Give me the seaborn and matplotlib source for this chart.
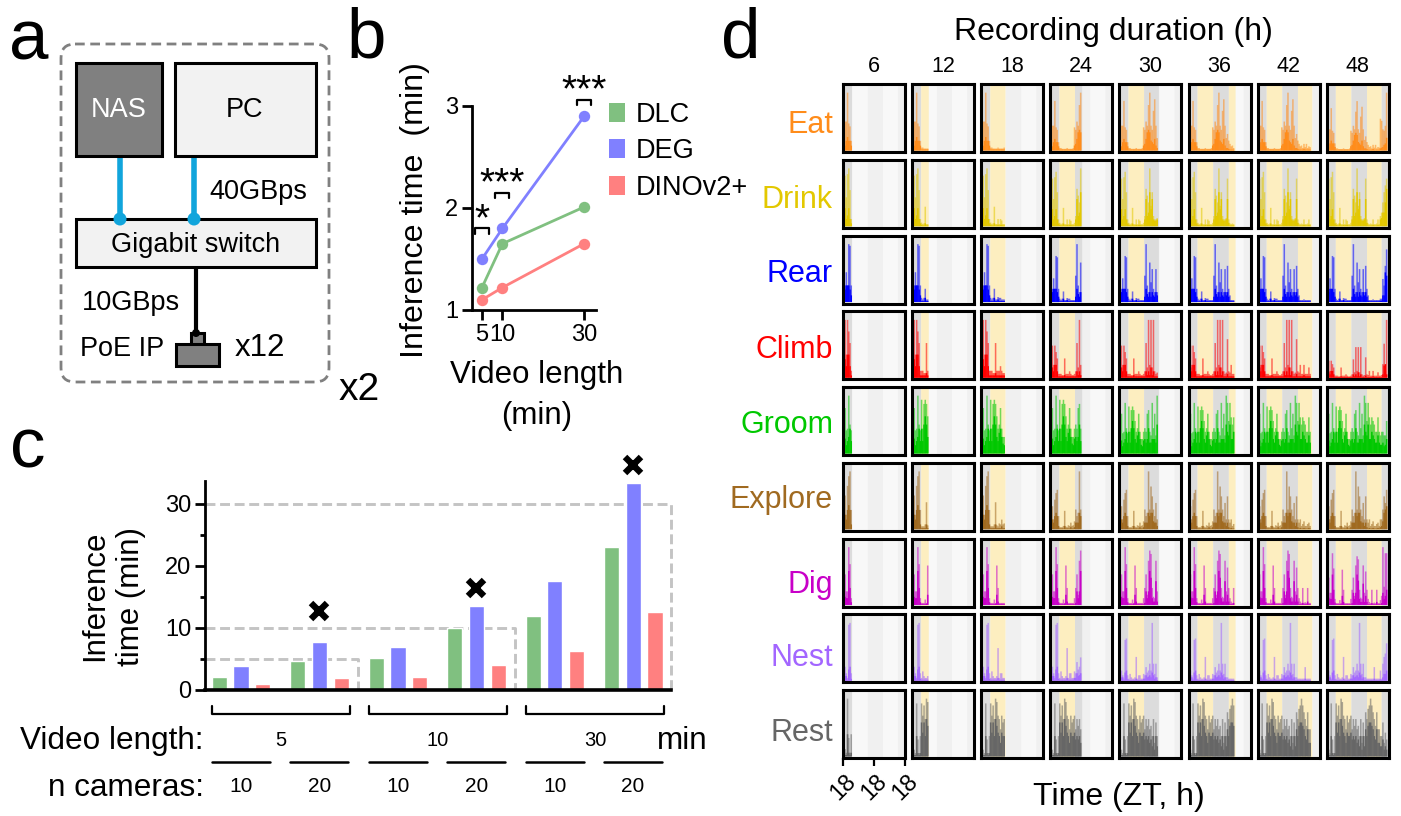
import numpy as np
import pandas as pd
import seaborn as sns
import matplotlib
matplotlib.use("Agg")
import matplotlib.pyplot as plt
from matplotlib.patches import FancyBboxPatch, Rectangle, Circle, Patch

W, H = 1401, 816

MODELS = ["DLC", "DEG", "DINOv2+"]
MODEL_COLORS = ["#80c080", "#8080ff", "#ff8080"]

# panel b
VIDEO_LEN = [5, 10, 30]
B_DLC = [1.22, 1.65, 2.01]
B_DEG = [1.50, 1.80, 2.90]
B_DINO = [1.10, 1.22, 1.65]
SIG_TEXT = ["*", "***", "***"]
SIG_Y = [1.80, 2.15, 3.06]

# panel c
CONDITIONS = ["5-10", "5-20", "10-10", "10-20", "30-10", "30-20"]
C_DLC = [2.1, 4.7, 5.2, 10.0, 12.0, 23.1]
C_DEG = [3.9, 7.8, 7.0, 13.6, 17.5, 33.4]
C_DINO = [0.9, 1.9, 2.1, 4.1, 6.3, 12.6]
LIMIT_VALUES = [5, 10, 30]
LIMIT_ENDS = [1.49, 3.49, 5.48]
CROSS_X = [1, 3, 5]
CROSS_Y = [12.7, 16.4, 36.2]
CAMERA_LABELS = ["10", "20", "10", "20", "10", "20"]
LENGTH_LABELS = ["5", "10", "30"]

# panel d, hourly values for 48 h, pale = peak, solid = mean level
DURATIONS = [6, 12, 18, 24, 30, 36, 42, 48]
BEHAVIOURS = ["Eat", "Drink", "Rear", "Climb", "Groom", "Explore", "Dig", "Nest", "Rest"]
BEHAVIOUR_COLORS = ["#ff8c1a", "#e3c800", "#0000ff", "#ff0000", "#00c800",
                    "#a06a20", "#c800c8", "#a366ff", "#666666"]
ROW_LABEL_Y = [123, 198, 272.5, 348, 423, 498, 582.5, 656, 731]

EAT_PALE = [.30, .30, .60, .28, .25, .10, .03, .03, .02, .02, .02, .02, .03, .02, .02, .02, .02, .03, .28, .25, .35, .30, .55, .70,
            .30, .25, .48, .62, .30, .15, .20, .12, .08, .05, .06, .03, .08, .04, .08, .03, .05, .04, .45, .42, .30, .28, .35, .82]
EAT_SOLID = [.05, .10, .14, .10, .10, .05, .01, .01, .01, .01, .01, .01, .01, .01, .01, .01, .01, .01, .06, .08, .14, .22, .25, .22,
             .12, .10, .08, .14, .06, .03, .03, .02, .01, .01, .01, .01, .02, .01, .01, .01, .01, .01, .03, .04, .05, .08, .10, .18]
DRINK_PALE = [.70, .40, .72, .80, .50, .10, .05, .03, .04, .27, .03, .03, .10, .03, .10, .08, .03, .03, .05, .15, .55, .45, .35, .85,
              .30, .50, .15, .10, .10, .12, .70, .10, .04, .03, .04, .03, .10, .03, .03, .04, .10, .03, .15, .20, .35, .50, .60, .70]
DRINK_SOLID = [.25, .10, .15, .25, .10, .04, .02, .01, .01, .04, .01, .01, .02, .01, .02, .02, .01, .01, .01, .10, .40, .15, .20, .50,
               .25, .40, .10, .08, .08, .10, .40, .05, .01, .01, .01, .01, .02, .01, .01, .01, .02, .01, .10, .12, .20, .20, .35, .55]
REAR_PALE = [.20, .36, .20, .70, .68, .20, .05, .03, .05, .16, .03, .03, .06, .05, .05, .03, .03, .03, .03, .40, .88, .25, .15, .60,
             .30, .50, .20, .15, .50, .15, .55, .20, .10, .03, .03, .03, .04, .03, .03, .03, .03, .03, .05, .05, .35, .25, .55, .80]
REAR_SOLID = [.15, .20, .20, .20, .15, .08, .01, .01, .01, .05, .01, .01, .03, .01, .01, .01, .01, .01, .01, .08, .20, .12, .08, .15,
              .08, .15, .10, .08, .15, .10, .15, .08, .02, .01, .01, .01, .01, .01, .01, .01, .01, .01, .02, .02, .10, .10, .45, .40]
CLIMB_PALE = [.25, .10, .25, .20, .15, .03, .03, .03, .02, .02, .15, .03, .03, .03, .05, .03, .02, .02, .03, .05, .27, .08, .45, .10,
              .45, .08, .45, .05, .03, .04, .30, .05, .04, .10, .03, .03, .10, .03, .03, .03, .08, .03, .03, .04, .20, .50, .10, .85]
CLIMB_SOLID = [.08, .05, .10, .10, .05, .01, .01, .01, .01, .01, .02, .01, .01, .01, .01, .01, .01, .01, .01, .01, .05, .02, .05, .02,
               .08, .02, .05, .01, .01, .01, .03, .01, .01, .01, .01, .01, .02, .01, .01, .01, .01, .01, .01, .01, .05, .18, .20, .05]
GROOM_PALE = [.55, .28, .30, .70, .35, .28, .65, .30, .60, .65, .60, .45, .30, .35, .55, .30, .20, .20, .30, .35, .30, .55, .60, .30,
              .25, .70, .35, .55, .25, .80, .70, .45, .70, .50, .40, .50, .45, .40, .30, .30, .50, .30, .25, .30, .30, .25, .25, .45]
GROOM_SOLID = [.18, .10, .15, .20, .30, .15, .30, .15, .35, .45, .35, .20, .15, .25, .30, .20, .12, .10, .18, .20, .15, .20, .35, .15,
               .15, .20, .20, .20, .15, .40, .30, .25, .40, .20, .20, .30, .25, .20, .15, .15, .25, .15, .12, .12, .15, .10, .12, .20]
EXPLORE_PALE = [.35, .15, .45, .55, .60, .20, .03, .03, .03, .05, .28, .04, .03, .06, .05, .10, .05, .06, .12, .30, .20, .25, .88, .30,
                .65, .50, .30, .20, .40, .15, .50, .15, .10, .15, .05, .08, .12, .05, .05, .08, .10, .05, .15, .15, .30, .50, .40, .60]
EXPLORE_SOLID = [.15, .10, .20, .25, .20, .05, .01, .01, .01, .01, .05, .01, .01, .01, .01, .03, .01, .01, .03, .10, .10, .10, .25, .20,
                 .25, .25, .12, .10, .10, .05, .10, .03, .01, .02, .01, .01, .02, .01, .01, .01, .02, .01, .03, .05, .12, .25, .30, .35]
DIG_PALE = [.45, .20, .20, .85, .60, .10, .03, .03, .03, .08, .03, .58, .25, .03, .03, .03, .03, .03, .10, .25, .45, .15, .65, .80,
            .75, .25, .12, .10, .65, .20, .55, .25, .10, .05, .03, .25, .03, .04, .03, .25, .03, .03, .08, .15, .95, .30, .85, .85]
DIG_SOLID = [.12, .10, .10, .50, .25, .04, .01, .01, .01, .01, .02, .15, .05, .01, .01, .01, .01, .01, .01, .03, .20, .10, .20, .50,
             .40, .10, .05, .05, .35, .05, .15, .05, .01, .01, .01, .03, .01, .01, .01, .05, .01, .01, .01, .03, .20, .10, .15, .25]
NEST_PALE = [.15, .08, .03, .60, .62, .08, .03, .10, .05, .03, .03, .05, .35, .03, .08, .08, .03, .03, .10, .08, .20, .12, .15, .25,
             .15, .85, .25, .10, .25, .05, .05, .03, .03, .03, .03, .03, .03, .20, .03, .03, .03, .03, .15, .03, .25, .35, .40, .55]
NEST_SOLID = [.05, .05, .01, .12, .15, .02, .01, .01, .01, .01, .01, .01, .03, .01, .01, .01, .01, .01, .03, .03, .08, .05, .06, .08,
              .05, .12, .08, .03, .05, .01, .01, .01, .01, .01, .01, .01, .01, .03, .01, .01, .01, .01, .02, .01, .05, .10, .10, .15]
REST_PALE = [.10, .05, .78, .25, .05, .30, .78, .60, .75, .55, .85, .80, .60, .55, .40, .60, .50, .55, .60, .40, .55, .45, .55, .40,
             .45, .30, .55, .20, .50, .30, .65, .55, .70, .75, .85, .75, .65, .55, .45, .65, .40, .40, .30, .30, .50, .20, .35, .25]
REST_SOLID = [.02, .02, .30, .05, .02, .05, .50, .35, .50, .30, .55, .45, .35, .30, .20, .35, .30, .30, .35, .25, .30, .25, .30, .20,
              .25, .15, .30, .10, .30, .15, .40, .30, .45, .50, .50, .45, .40, .30, .25, .40, .20, .20, .15, .15, .25, .10, .15, .10]

PALE_ROWS = [EAT_PALE, DRINK_PALE, REAR_PALE, CLIMB_PALE, GROOM_PALE, EXPLORE_PALE, DIG_PALE, NEST_PALE, REST_PALE]
SOLID_ROWS = [EAT_SOLID, DRINK_SOLID, REAR_SOLID, CLIMB_SOLID, GROOM_SOLID, EXPLORE_SOLID, DIG_SOLID, NEST_SOLID, REST_SOLID]

# light/dark phases as they sit in the panels
PHASE_STARTS = [-1.2, 6.2, 18.9, 31.6, 43.5]
PHASE_ENDS = [6.2, 18.9, 31.6, 43.5, 49.2]
PHASE_IS_DARK = [True, False, True, False, True]
RECORDED_STRETCH = 1.03

sns.set_theme(style="ticks", rc={"text.color": "black", "axes.edgecolor": "black", "axes.labelcolor": "black",
                                 "xtick.color": "black", "ytick.color": "black"})
plt.rcParams["font.family"] = ["Liberation Sans", "DejaVu Sans"]
plt.rcParams["axes.linewidth"] = 2.0

fig = plt.figure(figsize=(W / 100, H / 100), dpi=100, facecolor="white")


def px_axes(left, top, right, bottom):
    return fig.add_axes([left / W, 1 - bottom / H, (right - left) / W, (bottom - top) / H])


# canvas in pixels for the labels and the diagram of panel a
canvas = fig.add_axes([0, 0, 1, 1])
canvas.set_xlim(0, W)
canvas.set_ylim(H, 0)
canvas.axis("off")


def label(x, y, s, size=19.5, ha="left", va="center", **kw):
    canvas.text(x, y + 2, s, fontsize=size, ha=ha, va=va, color=kw.pop("color", "black"), **kw)


def box(left, top, right, bottom, face, lw=2.2):
    canvas.add_patch(Rectangle((left, top), right - left, bottom - top, fc=face, ec="black", lw=lw, zorder=3))


for x, y, s in [(9, 40, "a"), (346, 38, "b"), (10, 447, "c"), (721, 38, "d")]:
    label(x, y, s, size=51)

# panel a
canvas.add_patch(FancyBboxPatch((61, 44), 268, 338, boxstyle="round,pad=0,rounding_size=14",
                                fc="none", ec="#808080", lw=2.0, ls=(0, (3.5, 2))))
box(76, 63, 162, 156, "#808080")
box(175, 63, 316, 156, "#f2f2f2")
box(76, 219, 316, 267, "#f2f2f2")
box(191, 333, 204, 346, "#808080")
box(176, 344, 219, 366, "#808080")
for x in [120, 194]:
    canvas.plot([x, x], [156, 219], color="#11a5dc", lw=4, zorder=2, solid_capstyle="butt")
    canvas.add_patch(Circle((x, 219), 6.5, fc="#11a5dc", ec="none", zorder=4))
canvas.plot([196, 196], [267, 333], color="black", lw=3, zorder=2, solid_capstyle="butt")
canvas.add_patch(Circle((196, 333), 4, fc="black", ec="none", zorder=4))
label(119, 108, "NAS", ha="center", color="white", zorder=5)
label(245, 108, "PC", ha="center", zorder=5)
label(209, 190, "40GBps")
label(196, 243, "Gigabit switch", ha="center", zorder=5)
label(82, 301, "10GBps")
label(80, 347, "PoE IP")
label(235, 346, "x12", size=22.5)
label(339, 388, "x2", size=28)

# panel b
df_b = pd.DataFrame({
    "length": VIDEO_LEN * 3,
    "time": B_DLC + B_DEG + B_DINO,
    "model": [m for m in MODELS for _ in VIDEO_LEN],
})
ax_b = px_axes(472, 106, 596, 310)
sns.lineplot(data=df_b, x="length", y="time", hue="model", palette=MODEL_COLORS, hue_order=MODELS,
             marker="o", markersize=8.2, markeredgewidth=0, linewidth=2.0, legend=False,
             clip_on=False, ax=ax_b)
ax_b.set_xlim(2.56, 32.9)
ax_b.set_ylim(1, 3)
ax_b.set_xticks(VIDEO_LEN)
ax_b.set_yticks([1, 2, 3])
ax_b.tick_params(axis="both", length=7, width=2, labelsize=17, pad=3)
ax_b.set_xlabel("")
ax_b.set_ylabel("")
ax_b.patch.set_alpha(0)
sns.despine(ax=ax_b)
for x, y, s in zip(VIDEO_LEN, SIG_Y, SIG_TEXT):
    ax_b.plot([x - 1.7, x - 1.7, x + 1.7, x + 1.7], [y - 0.05, y, y, y - 0.05], color="black", lw=1.6, clip_on=False)
    ax_b.text(x, y + 0.12, s, fontsize=28, ha="center", va="center_baseline", clip_on=False)
ax_b.legend(handles=[Patch(fc=c, ec="none", label=m) for m, c in zip(MODELS, MODEL_COLORS)],
            loc="upper left", bbox_to_anchor=(609 / W, 1 - 102 / H), bbox_transform=fig.transFigure,
            frameon=False, fontsize=19.5, handlelength=0.6, handleheight=0.7, handletextpad=0.4,
            labelspacing=0.38, borderpad=0, borderaxespad=0)
label(415, 208, "Inference time  (min)", size=23.2, ha="center", rotation=90)
label(537, 373, "Video length", size=22.5, ha="center")
label(537, 414, "(min)", size=22.5, ha="center")

# panel c
df_c = pd.DataFrame({
    "condition": CONDITIONS * 3,
    "time": C_DLC + C_DEG + C_DINO,
    "model": [m for m in MODELS for _ in CONDITIONS],
})
ax_c = px_axes(205, 481, 671, 690)
sns.barplot(data=df_c, x="condition", y="time", hue="model", hue_order=MODELS, palette=MODEL_COLORS,
            width=0.83, gap=0.3, saturation=1, errorbar=None, legend=False, ax=ax_c)
ax_c.set_xlim(-0.459, 5.48)
ax_c.set_ylim(0, 33.7)
for value, end in zip(LIMIT_VALUES, LIMIT_ENDS):
    ax_c.plot([-0.459, end, end], [value, value, 0], color="#c4c4c4", lw=2.1, ls=(0, (3.4, 1.6)), zorder=0.5, clip_on=False)
ax_c.plot(CROSS_X, CROSS_Y, ls="none", marker="x", ms=12, mew=4.6, color="black", clip_on=False)
ax_c.set_xticks([])
ax_c.set_yticks([0, 10, 20, 30])
ax_c.set_yticks([5, 15, 25], minor=True)
ax_c.tick_params(axis="y", which="major", length=7, width=2, labelsize=17, pad=3)
ax_c.tick_params(axis="y", which="minor", length=3.5, width=2)
ax_c.spines["bottom"].set_linewidth(2.6)
ax_c.set_xlabel("")
ax_c.set_ylabel("")
ax_c.patch.set_alpha(0)
sns.despine(ax=ax_c)
label(113, 594, "Inference\ntime (min)", size=22.5, ha="center", rotation=90, linespacing=1.25)
label(204, 739, "Video length:", size=22.7, ha="right")
label(204, 786, "n cameras:", size=22.7, ha="right")
label(657, 739, "min", size=22.7)
for i, s in enumerate(LENGTH_LABELS):
    left = 212 + i * 157
    canvas.plot([left, left, left + 138, left + 138], [706, 714, 714, 706], color="black", lw=1.6)
    label(left + 69, 739, s, size=14.5, ha="center")
for i, s in enumerate(CAMERA_LABELS):
    left = 212 + i * 78.4
    canvas.plot([left, left + 58], [762, 762], color="black", lw=1.8)
    label(left + 29, 785, s, size=15, ha="center")

# panel d
col_left = [843 + i * 69.1 for i in range(8)]
row_top = [84 + i * 75.75 for i in range(9)]
hours = np.arange(48) + 0.5
for r, name in enumerate(BEHAVIOURS):
    pale = np.array(PALE_ROWS[r])
    solid = np.array(SOLID_ROWS[r])
    color = BEHAVIOUR_COLORS[r]
    label(833, ROW_LABEL_Y[r], name, size=22, ha="right", color=color)
    for c, dur in enumerate(DURATIONS):
        ax = px_axes(col_left[c], row_top[r], col_left[c] + 62, row_top[r] + 68)
        for start, end, dark in zip(PHASE_STARTS, PHASE_ENDS, PHASE_IS_DARK):
            ax.axvspan(start, end, color="#f0f0f0" if dark else "#f8f8f8", lw=0, zorder=0)
            recorded_end = min(end, dur * RECORDED_STRETCH)
            if start < recorded_end:
                ax.axvspan(start, recorded_end, color="#dcdcdc" if dark else "#fdeec0", lw=0, zorder=0.1)
        sns.barplot(x=hours[:dur], y=pale[:dur], native_scale=True, width=1.25, color=color, saturation=1,
                    alpha=0.55, linewidth=0, errorbar=None, ax=ax)
        sns.barplot(x=hours[:dur], y=solid[:dur], native_scale=True, width=1.25, color=color, saturation=1,
                    linewidth=0, errorbar=None, ax=ax)
        # thin bars look patchy when they snap to whole pixels
        for bar in ax.patches:
            bar.set_snap(False)
        # the limits leave room so the frame does not cover the outer bars
        ax.set_xlim(-1.2, 49.2)
        # every panel is scaled to its own peak
        top = pale[:dur].max() / 0.87
        ax.set_ylim(-0.023 * top, top)
        ax.set_yticks([])
        ax.set_xlabel("")
        ax.set_ylabel("")
        for spine in ax.spines.values():
            spine.set_linewidth(2.2)
        if r == 8 and c == 0:
            ax.set_xticks([-1.2, 24, 49.2])
            ax.set_xticklabels(["18", "18", "18"], rotation=45, fontsize=17)
            ax.tick_params(axis="x", length=6, width=1.6, pad=3)
        else:
            ax.set_xticks([])
        if r == 0:
            label(col_left[c] + 31, 65, str(dur), size=15.5, ha="center")
label(1113, 30, "Recording duration (h)", size=23, ha="center")
label(1119, 795, "Time (ZT, h)", size=23, ha="center")

fig.savefig("out.png", dpi=100)
